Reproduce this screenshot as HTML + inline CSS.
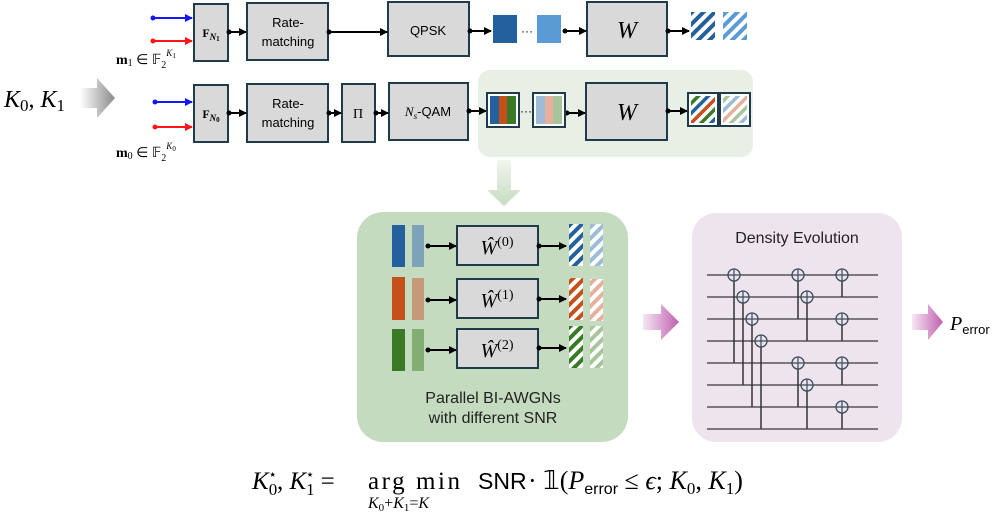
<!DOCTYPE html>
<html><head><meta charset="utf-8"><style>
html,body{margin:0;padding:0;background:#fff;}
svg{display:block;}
text{font-family:"Liberation Sans",sans-serif;}
.m{font-family:"Liberation Serif",serif;}
</style></head><body>
<svg width="996" height="515" viewBox="0 0 996 515" xmlns="http://www.w3.org/2000/svg">
<defs>
<marker id="ah" markerWidth="8" markerHeight="8" refX="7" refY="4" orient="auto" markerUnits="userSpaceOnUse"><path d="M0,0 L8,4 L0,8 z" fill="#000"/></marker>
<marker id="ahb" markerWidth="8" markerHeight="8" refX="7" refY="4" orient="auto" markerUnits="userSpaceOnUse"><path d="M0,0 L8,4 L0,8 z" fill="#1515ff"/></marker>
<marker id="ahr" markerWidth="8" markerHeight="8" refX="7" refY="4" orient="auto" markerUnits="userSpaceOnUse"><path d="M0,0 L8,4 L0,8 z" fill="#ff1515"/></marker>
<pattern id="hB" width="8" height="8" patternUnits="userSpaceOnUse" patternTransform="rotate(-45)"><rect width="8" height="4" fill="#245f9e"/></pattern>
<pattern id="hLB" width="8" height="8" patternUnits="userSpaceOnUse" patternTransform="rotate(-45)"><rect width="8" height="4" fill="#5b9bd5"/></pattern>
<pattern id="hB2" width="8" height="8" patternUnits="userSpaceOnUse" patternTransform="rotate(-45)"><rect width="8" height="4" fill="#9ebcd8"/></pattern>
<pattern id="hO" width="8" height="8" patternUnits="userSpaceOnUse" patternTransform="rotate(-45)"><rect width="8" height="4" fill="#c5501c"/></pattern>
<pattern id="hO2" width="8" height="8" patternUnits="userSpaceOnUse" patternTransform="rotate(-45)"><rect width="8" height="4" fill="#e6b09c"/></pattern>
<pattern id="hG" width="8" height="8" patternUnits="userSpaceOnUse" patternTransform="rotate(-45)"><rect width="8" height="4" fill="#3a7a26"/></pattern>
<pattern id="hG2" width="8" height="8" patternUnits="userSpaceOnUse" patternTransform="rotate(-45)"><rect width="8" height="4" fill="#a8c49a"/></pattern>
<pattern id="hM" width="21" height="21" patternUnits="userSpaceOnUse" patternTransform="rotate(-45)"><rect width="21" height="3.5" fill="#245f9e"/><rect y="7" width="21" height="3.5" fill="#c5501c"/><rect y="14" width="21" height="3.5" fill="#3a7a26"/></pattern>
<pattern id="hM2" width="21" height="21" patternUnits="userSpaceOnUse" patternTransform="rotate(-45)"><rect width="21" height="3.5" fill="#9ebcd8"/><rect y="7" width="21" height="3.5" fill="#e6b09c"/><rect y="14" width="21" height="3.5" fill="#a8c49a"/></pattern>
<linearGradient id="gg" x1="0" x2="1"><stop offset="0" stop-color="#fff"/><stop offset="1" stop-color="#8a8a8a"/></linearGradient>
<linearGradient id="gp" x1="0" x2="1"><stop offset="0" stop-color="#f6e6f3"/><stop offset="1" stop-color="#c060b0"/></linearGradient>
<linearGradient id="ggr" x1="0" y1="0" x2="0" y2="1"><stop offset="0" stop-color="#f2f7ef"/><stop offset="1" stop-color="#c5dbbf"/></linearGradient>
</defs>

<text x="4" y="107" class="m" font-size="24" font-style="italic">K<tspan font-style="normal" font-size="17" dy="4">0</tspan><tspan dy="-4" font-style="normal">, </tspan>K<tspan font-style="normal" font-size="17" dy="4">1</tspan></text>
<path d="M80,88 L97,88 L97,78 L115,98 L97,118 L97,108 L80,108 z" fill="url(#gg)"/>

<rect x="478" y="70" width="275" height="87" rx="12" fill="#e8f0e6"/>

<g fill="#d9d9d9" stroke="#1f3a4a" stroke-width="2">
<rect x="194" y="4" width="34" height="57"/>
<rect x="247" y="3" width="81" height="57"/>
<rect x="388" y="2" width="81" height="54"/>
<rect x="587" y="2" width="80" height="54"/>
<rect x="194" y="85" width="34" height="57"/>
<rect x="247" y="84" width="81" height="58"/>
<rect x="342" y="84" width="33" height="58"/>
<rect x="389" y="83" width="79" height="57"/>
<rect x="586" y="83" width="81" height="57"/>
</g>

<text x="211" y="37" class="m" font-size="12" font-weight="bold" text-anchor="middle">F<tspan font-size="9" font-style="italic" dy="3">N</tspan><tspan font-size="7" dy="1">1</tspan></text>
<text x="211" y="118" class="m" font-size="12" font-weight="bold" text-anchor="middle">F<tspan font-size="9" font-style="italic" dy="3">N</tspan><tspan font-size="7" dy="1">0</tspan></text>
<g font-size="13" text-anchor="middle">
<text x="288" y="27">Rate-</text><text x="288" y="46">matching</text>
<text x="288" y="108">Rate-</text><text x="288" y="127">matching</text>
<text x="428" y="35">QPSK</text>
<text x="428" y="116"><tspan class="m" font-style="italic">N<tspan font-size="9" dy="3">s</tspan></tspan><tspan dy="-3">-QAM</tspan></text>
</g>
<text x="358" y="118" class="m" font-size="14" text-anchor="middle">Π</text>
<text x="627" y="38" class="m" font-size="24" font-style="italic" text-anchor="middle">W</text>
<text x="627" y="120" class="m" font-size="24" font-style="italic" text-anchor="middle">W</text>

<g stroke-width="2">
<line x1="153" y1="18" x2="192" y2="18" stroke="#1515ff" marker-end="url(#ahb)"/>
<line x1="153" y1="41" x2="192" y2="41" stroke="#ff1515" marker-end="url(#ahr)"/>
<line x1="155" y1="102" x2="192" y2="102" stroke="#1515ff" marker-end="url(#ahb)"/>
<line x1="155" y1="127" x2="192" y2="127" stroke="#ff1515" marker-end="url(#ahr)"/>
</g>
<g fill="#1515ff"><circle cx="153" cy="18" r="2.5"/><circle cx="155" cy="102" r="2.5"/></g>
<g fill="#ff1515"><circle cx="153" cy="41" r="2.5"/><circle cx="155" cy="127" r="2.5"/></g>
<text x="116" y="64" class="m" font-size="14"><tspan font-weight="bold">m</tspan><tspan font-size="10" dy="2">1</tspan><tspan dy="-2"> ∈ 𝔽</tspan><tspan font-size="10" dy="4">2</tspan><tspan font-size="9" font-style="italic" dy="-12">K</tspan><tspan font-size="7" dy="2">1</tspan></text>
<text x="116" y="157" class="m" font-size="14"><tspan font-weight="bold">m</tspan><tspan font-size="10" dy="2">0</tspan><tspan dy="-2"> ∈ 𝔽</tspan><tspan font-size="10" dy="4">2</tspan><tspan font-size="9" font-style="italic" dy="-12">K</tspan><tspan font-size="7" dy="2">0</tspan></text>

<g stroke="#000" stroke-width="2" marker-end="url(#ah)">
<line x1="229" y1="32" x2="246" y2="32"/>
<line x1="329" y1="32" x2="387" y2="32"/>
<line x1="470" y1="31" x2="491" y2="31"/>
<line x1="565" y1="31" x2="586" y2="31"/>
<line x1="668" y1="31" x2="689" y2="31"/>
<line x1="229" y1="113" x2="246" y2="113"/>
<line x1="329" y1="113" x2="341" y2="113"/>
<line x1="376" y1="113" x2="388" y2="113"/>
<line x1="469" y1="111" x2="486" y2="111"/>
<line x1="567" y1="113" x2="585" y2="113"/>
<line x1="668" y1="111" x2="687" y2="111"/>
</g>
<g fill="#000">
<circle cx="229" cy="32" r="2.5"/><circle cx="329" cy="32" r="2.5"/><circle cx="470" cy="31" r="2.5"/><circle cx="565" cy="31" r="2.5"/><circle cx="668" cy="31" r="2.5"/>
<circle cx="229" cy="113" r="2.5"/><circle cx="329" cy="113" r="2.5"/><circle cx="376" cy="113" r="2.5"/><circle cx="469" cy="111" r="2.5"/><circle cx="567" cy="113" r="2.5"/><circle cx="668" cy="111" r="2.5"/>
</g>

<rect x="493" y="15" width="24" height="28" fill="#245f9e"/>
<text x="527" y="35" font-size="12" text-anchor="middle">···</text>
<rect x="537" y="15" width="24" height="28" fill="#5b9bd5"/>
<rect x="691" y="12" width="24" height="28" fill="url(#hB)"/>
<rect x="723" y="12" width="24" height="28" fill="url(#hLB)"/>

<rect x="487" y="93" width="32" height="34" fill="#fff" stroke="#1f3a4a" stroke-width="2"/>
<rect x="490" y="96" width="9" height="28" fill="#245f9e"/><rect x="499" y="96" width="8" height="28" fill="#c5501c"/><rect x="507" y="96" width="9" height="28" fill="#3a7a26"/>
<text x="526" y="115" font-size="12" text-anchor="middle">···</text>
<rect x="533" y="93" width="32" height="34" fill="#fff" stroke="#1f3a4a" stroke-width="2"/>
<rect x="536" y="96" width="9" height="28" fill="#9ebcd8"/><rect x="545" y="96" width="8" height="28" fill="#e6b09c"/><rect x="553" y="96" width="9" height="28" fill="#a8c49a"/>
<rect x="688" y="93" width="30" height="33" fill="#fff" stroke="#1f3a4a" stroke-width="2"/>
<rect x="691" y="96" width="24" height="27" fill="url(#hM)"/>
<rect x="720" y="93" width="30" height="33" fill="#fff" stroke="#1f3a4a" stroke-width="2"/>
<rect x="723" y="96" width="24" height="27" fill="url(#hM2)"/>

<path d="M497,160 L511,160 L511,190 L521,190 L504,206 L487,190 L497,190 z" fill="url(#ggr)"/>

<rect x="357" y="212" width="271" height="230" rx="26" fill="#c5dbbf"/>
<rect x="392" y="225" width="13" height="42" fill="#245f9e"/><rect x="412" y="225" width="12" height="42" fill="#7ea3b8"/>
<rect x="392" y="277" width="13" height="43" fill="#c5501c"/><rect x="412" y="278" width="12" height="42" fill="#c69a78"/>
<rect x="392" y="329" width="13" height="42" fill="#3a7a26"/><rect x="412" y="329" width="12" height="42" fill="#82ae72"/>
<g fill="#d9d9d9" stroke="#1f3a4a" stroke-width="2">
<rect x="457" y="226" width="81" height="39"/>
<rect x="457" y="279" width="81" height="39"/>
<rect x="457" y="329" width="81" height="39"/>
</g>
<g font-size="20" font-style="italic" text-anchor="middle">
<text x="497" y="254" class="m">Ŵ<tspan font-style="normal" font-size="14" dy="-8">(0)</tspan></text>
<text x="497" y="307" class="m">Ŵ<tspan font-style="normal" font-size="14" dy="-8">(1)</tspan></text>
<text x="497" y="357" class="m">Ŵ<tspan font-style="normal" font-size="14" dy="-8">(2)</tspan></text>
</g>
<g stroke="#000" stroke-width="2" marker-end="url(#ah)">
<line x1="428" y1="246" x2="456" y2="246"/><line x1="539" y1="246" x2="566" y2="246"/>
<line x1="428" y1="300" x2="456" y2="300"/><line x1="539" y1="299" x2="566" y2="299"/>
<line x1="428" y1="350" x2="456" y2="350"/><line x1="539" y1="348" x2="566" y2="348"/>
</g>
<g fill="#000"><circle cx="428" cy="246" r="2.5"/><circle cx="539" cy="246" r="2.5"/><circle cx="428" cy="300" r="2.5"/><circle cx="539" cy="299" r="2.5"/><circle cx="428" cy="350" r="2.5"/><circle cx="539" cy="348" r="2.5"/></g>
<rect x="569" y="224" width="14" height="42" fill="#fff"/><rect x="569" y="224" width="14" height="42" fill="url(#hB)"/>
<rect x="590" y="224" width="13" height="42" fill="#fff"/><rect x="590" y="224" width="13" height="42" fill="url(#hB2)"/>
<rect x="569" y="278" width="14" height="42" fill="#fff"/><rect x="569" y="278" width="14" height="42" fill="url(#hO)"/>
<rect x="590" y="279" width="13" height="42" fill="#fff"/><rect x="590" y="279" width="13" height="42" fill="url(#hO2)"/>
<rect x="569" y="326" width="14" height="42" fill="#fff"/><rect x="569" y="326" width="14" height="42" fill="url(#hG)"/>
<rect x="590" y="326" width="13" height="42" fill="#fff"/><rect x="590" y="326" width="13" height="42" fill="url(#hG2)"/>
<text x="493" y="403" font-size="16" text-anchor="middle" fill="#222">Parallel BI-AWGNs</text>
<text x="493" y="423" font-size="16" text-anchor="middle" fill="#222">with different SNR</text>

<path d="M643,314 L661,314 L661,304 L679,322 L661,340 L661,330 L643,330 z" fill="url(#gp)"/>

<rect x="692" y="213" width="210" height="229" rx="24" fill="#ede4ee"/>
<text x="797" y="243" font-size="16" text-anchor="middle" fill="#222">Density Evolution</text>
<g stroke="#555" stroke-width="1.5">
<line x1="707" y1="275" x2="878" y2="275"/><line x1="707" y1="297" x2="878" y2="297"/>
<line x1="707" y1="319" x2="878" y2="319"/><line x1="707" y1="341" x2="878" y2="341"/>
<line x1="707" y1="363" x2="878" y2="363"/><line x1="707" y1="385" x2="878" y2="385"/>
<line x1="707" y1="407" x2="878" y2="407"/><line x1="707" y1="429" x2="878" y2="429"/>
</g>
<g stroke="#333" stroke-width="1.5">
<line x1="734" y1="275" x2="734" y2="363"/><line x1="743" y1="297" x2="743" y2="385"/>
<line x1="752" y1="319" x2="752" y2="407"/><line x1="761" y1="341" x2="761" y2="429"/>
<line x1="798" y1="275" x2="798" y2="319"/><line x1="807" y1="297" x2="807" y2="341"/>
<line x1="842" y1="275" x2="842" y2="297"/><line x1="842" y1="319" x2="842" y2="341"/>
<line x1="798" y1="363" x2="798" y2="407"/><line x1="807" y1="385" x2="807" y2="429"/>
<line x1="842" y1="363" x2="842" y2="385"/><line x1="842" y1="407" x2="842" y2="429"/>
</g>
<g fill="#ede4ee" stroke="#3a4a5a" stroke-width="1.3">
<circle cx="734" cy="275" r="6"/><circle cx="743" cy="297" r="6"/><circle cx="752" cy="319" r="6"/><circle cx="761" cy="341" r="6"/>
<circle cx="798" cy="275" r="6"/><circle cx="807" cy="297" r="6"/><circle cx="842" cy="275" r="6"/><circle cx="842" cy="319" r="6"/>
<circle cx="798" cy="363" r="6"/><circle cx="807" cy="385" r="6"/><circle cx="842" cy="363" r="6"/><circle cx="842" cy="407" r="6"/>
</g>
<g stroke="#3a4a5a" stroke-width="1.2">
<path d="M728,275h12M734,269v12M737,297h12M743,291v12M746,319h12M752,313v12M755,341h12M761,335v12"/>
<path d="M792,275h12M798,269v12M801,297h12M807,291v12M836,275h12M842,269v12M836,319h12M842,313v12"/>
<path d="M792,363h12M798,357v12M801,385h12M807,379v12M836,363h12M842,357v12M836,407h12M842,401v12"/>
</g>

<path d="M912,314 L928,314 L928,304 L943,322 L928,340 L928,330 L912,330 z" fill="url(#gp)"/>
<text x="950" y="330" class="m" font-size="20" font-style="italic">P<tspan font-family="Liberation Sans" font-style="normal" font-size="13" dy="4">error</tspan></text>

<text x="252" y="489" class="m" font-size="25"><tspan font-style="italic">K</tspan><tspan font-size="17" dy="6">0</tspan><tspan font-size="14" dy="-16" dx="-9">⋆</tspan><tspan dy="10">, </tspan><tspan font-style="italic">K</tspan><tspan font-size="17" dy="6">1</tspan><tspan font-size="14" dy="-16" dx="-9">⋆</tspan><tspan dy="10"> =</tspan></text>
<text x="368" y="489" class="m" font-size="25" textLength="92" lengthAdjust="spacing">arg min</text>
<text x="368" y="508" class="m" font-size="16"><tspan font-style="italic">K</tspan><tspan font-size="11" dy="3">0</tspan><tspan dy="-3">+</tspan><tspan font-style="italic">K</tspan><tspan font-size="11" dy="3">1</tspan><tspan dy="-3">=</tspan><tspan font-style="italic">K</tspan></text>
<text x="478" y="489" font-size="23">SNR</text>
<text x="528" y="489" class="m" font-size="26">· 𝟙(<tspan font-style="italic">P</tspan><tspan font-family="Liberation Sans" font-size="16" dy="5">error</tspan><tspan dy="-5"> ≤ </tspan><tspan font-style="italic">ϵ</tspan>; <tspan font-style="italic">K</tspan><tspan font-size="17" dy="5">0</tspan><tspan dy="-5">, </tspan><tspan font-style="italic">K</tspan><tspan font-size="17" dy="5">1</tspan><tspan dy="-5">)</tspan></text>
</svg>
</body></html>
